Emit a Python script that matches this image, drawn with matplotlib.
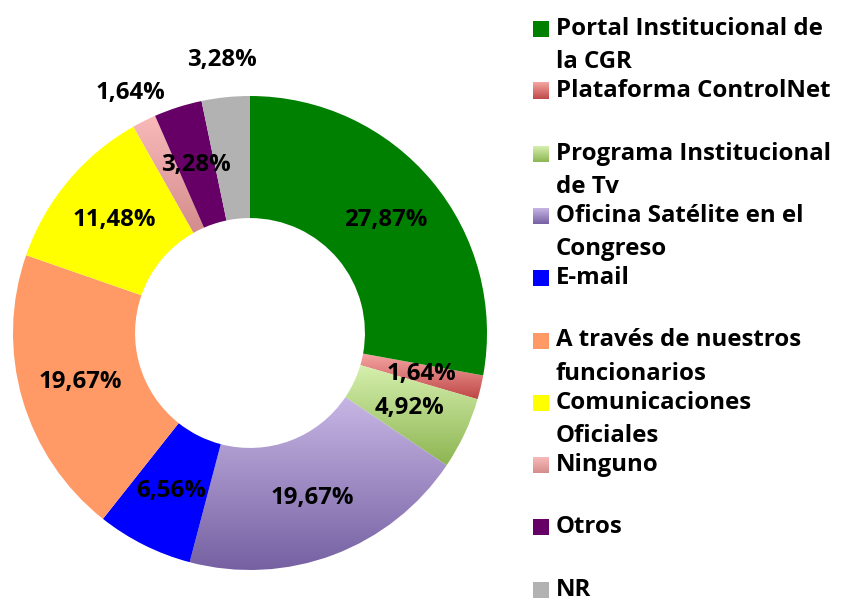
import matplotlib
matplotlib.use('Agg')
import matplotlib.pyplot as plt
from matplotlib.patches import Rectangle
from matplotlib.colors import LinearSegmentedColormap
import numpy as np

# Data
labels = ['Portal Institucional de\nla CGR', 'Plataforma ControlNet',
          'Programa Institucional\nde Tv', 'Oficina Satélite en el\nCongreso',
          'E-mail', 'A través de nuestros\nfuncionarios',
          'Comunicaciones\nOficiales', 'Ninguno', 'Otros', 'NR']
values = [27.87, 1.64, 4.92, 19.67, 6.56, 19.67, 11.48, 1.64, 3.28, 3.28]

# Colours: solid, or (top, bottom) for a vertical gradient
colors = ['#008000', ('#F6A6A4', '#BE4846'), ('#D6F0AE', '#8DB552'),
          ('#C6B6E4', '#7660A2'), '#0000FF', '#FF9966', '#FFFF00',
          ('#F9BABA', '#D48C8C'), '#660066', '#B2B2B2']

# label radius for the slices whose value sits outside the ring
outside = {7: 1.13, 9: 1.16}

font = 'Open Sans'
fs = 17.3

fig = plt.figure(figsize=(8.52, 6.03), dpi=100)

# Pie axes (centre at 250,333 px, radius 237 px)
W, H = 852, 603
cx, cy, R = 250, 333, 237
ax = fig.add_axes([(cx - R) / W, (H - cy - R) / H, 2 * R / W, 2 * R / H])

wedges, _ = ax.pie(values, startangle=90, counterclock=False, radius=1,
                   wedgeprops=dict(width=0.515, linewidth=0))

grad = np.linspace(0, 1, 256).reshape(-1, 1)
for w, c in zip(wedges, colors):
    if isinstance(c, tuple):
        w.set_facecolor('none')
        ext = w.get_path().get_extents()
        cmap = LinearSegmentedColormap.from_list('g', [c[0], c[1]])
        im = ax.imshow(grad, cmap=cmap, aspect='auto',
                       extent=(ext.x0, ext.x1, ext.y0, ext.y1),
                       interpolation='bicubic', zorder=0.5)
        im.set_clip_path(w)
    else:
        w.set_facecolor(c)

for i, (w, v) in enumerate(zip(wedges, values)):
    ang = np.deg2rad((w.theta1 + w.theta2) / 2)
    r = outside.get(i, 0.745)
    txt = f'{v:.2f}%'.replace('.', ',')
    ax.text(r * np.cos(ang), r * np.sin(ang), txt, ha='center', va='center',
            fontsize=fs, fontweight='bold', family=font, zorder=5)

ax.set_xlim(-1, 1)
ax.set_ylim(-1, 1)
ax.set_aspect('equal')
ax.axis('off')

# Legend, drawn in pixel coordinates
lax = fig.add_axes([0, 0, 1, 1], zorder=-1)
lax.axis('off')

y0, step, line = 29, 62.3, 33
for i, (lab, c) in enumerate(zip(labels, colors)):
    yc = y0 + i * step
    if isinstance(c, tuple):
        cmap = LinearSegmentedColormap.from_list('g', [c[0], c[1]])
        lax.imshow(grad, cmap=cmap, aspect='auto',
                   extent=(533, 549, yc + 8, yc - 8), interpolation='bicubic')
    else:
        lax.add_patch(Rectangle((533, yc - 8), 16, 16, color=c, lw=0))
    for k, part in enumerate(lab.split('\n')):
        lax.text(556, yc + k * line, part, ha='left', va='center',
                 fontsize=fs, fontweight='bold', family=font)

lax.set_xlim(0, W)
lax.set_ylim(H, 0)

fig.savefig('out.png', dpi=100)
